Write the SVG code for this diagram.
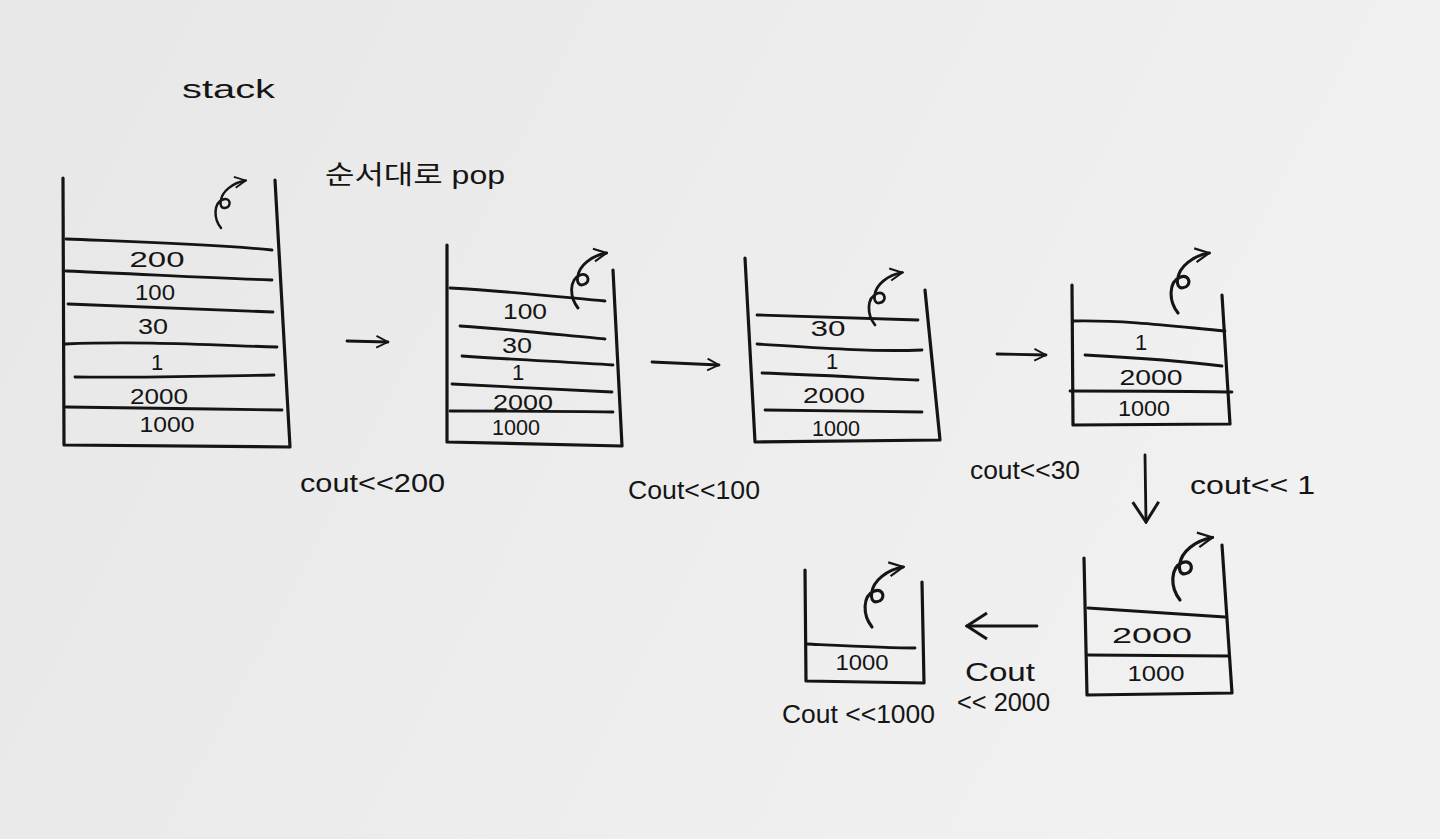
<svg xmlns="http://www.w3.org/2000/svg" width="1440" height="839" viewBox="0 0 1440 839">
<defs>
<linearGradient id="paper" x1="0" y1="0" x2="1" y2="0.3">
<stop offset="0" stop-color="#e7e7e7"/>
<stop offset="0.6" stop-color="#ededed"/>
<stop offset="1" stop-color="#f1f1f1"/>
</linearGradient>
<marker id="ah" viewBox="0 0 12 12" refX="11" refY="6" markerWidth="14" markerHeight="14" markerUnits="userSpaceOnUse" orient="auto">
<path d="M1,1 L11,6 L1,11" fill="none" stroke="#151515" stroke-width="1.6"/>
</marker>
<marker id="big" viewBox="0 0 24 30" refX="22" refY="15" markerWidth="24" markerHeight="30" markerUnits="userSpaceOnUse" orient="auto">
<path d="M2,2 L22,15 L2,28" fill="none" stroke="#151515" stroke-width="3"/>
</marker>
<path id="curl" d="M0,0 C-8,-10 -8,-26 2,-30 C10,-33 12,-22 4,-21 C-3,-20 -2,-34 8,-42 C14,-47 20,-49 26,-50" fill="none" stroke="#151515" stroke-width="2.6" stroke-linecap="round" marker-end="url(#ah)"/>
</defs>
<style>
.w{fill:none;stroke:#141414;stroke-width:3.2;stroke-linecap:round;stroke-linejoin:round}
.d{fill:none;stroke:#141414;stroke-width:2.8;stroke-linecap:round}
.c{fill:none;stroke:#141414;stroke-width:2.8;stroke-linecap:round}
.n{font-family:"Liberation Sans","Noto Sans CJK KR",sans-serif;font-size:22px;fill:#151515;text-anchor:middle}
.t{font-family:"Liberation Sans","Noto Sans CJK KR",sans-serif;font-size:26px;fill:#151515}
</style>
<rect width="1440" height="839" fill="url(#paper)"/>

<g id="title">
<text class="t" x="182" y="98" font-size="34" textLength="93" lengthAdjust="spacingAndGlyphs">stack</text>
<text class="t" x="325" y="184" font-size="30" textLength="180" lengthAdjust="spacingAndGlyphs">순서대로 pop</text>
</g>

<g id="stack1">
<path class="w" d="M63,178 L64,445 L290,447 L275,180"/>
<path class="d" d="M66,239 C140,242 210,244 272,250"/>
<path class="d" d="M66,271 C140,274 210,278 272,280"/>
<path class="d" d="M68,304 C140,307 210,310 273,312"/>
<path class="d" d="M65,344 C140,341 210,345 277,347"/>
<path class="d" d="M75,377 C140,378 210,376 274,375"/>
<path class="d" d="M66,407 C140,408 210,409 282,410"/>
<text class="n" x="157" y="267" textLength="55" lengthAdjust="spacingAndGlyphs">200</text>
<text class="n" x="155" y="300" textLength="40" lengthAdjust="spacingAndGlyphs">100</text>
<text class="n" x="153" y="334" textLength="30" lengthAdjust="spacingAndGlyphs">30</text>
<text class="n" x="157" y="370">1</text>
<text class="n" x="159" y="404" textLength="58" lengthAdjust="spacingAndGlyphs">2000</text>
<text class="n" x="167" y="432" textLength="55" lengthAdjust="spacingAndGlyphs">1000</text>
<use href="#curl" transform="translate(221,228) scale(0.95)"/>
</g>

<g id="stack2">
<path class="w" d="M447,245 L447,442 L622,446 L613,270"/>
<path class="d" d="M450,288 C520,292 570,298 605,301"/>
<path class="d" d="M460,326 C520,330 570,336 605,339"/>
<path class="d" d="M462,356 C520,360 570,362 613,365"/>
<path class="d" d="M452,384 C520,387 570,390 612,392"/>
<path class="d" d="M450,411 C520,411 570,411 613,412"/>
<text class="n" x="525" y="319" textLength="44" lengthAdjust="spacingAndGlyphs">100</text>
<text class="n" x="517" y="353" textLength="30" lengthAdjust="spacingAndGlyphs">30</text>
<text class="n" x="518" y="380">1</text>
<text class="n" x="523" y="410" textLength="60" lengthAdjust="spacingAndGlyphs">2000</text>
<text class="n" x="516" y="435" textLength="48" lengthAdjust="spacingAndGlyphs">1000</text>
<use href="#curl" transform="translate(578,308) scale(1.1)"/>
</g>

<g id="stack3">
<path class="w" d="M745,258 L755,442 L940,440 L925,290"/>
<path class="d" d="M757,315 C820,317 870,318 918,320"/>
<path class="d" d="M757,344 C820,348 870,352 922,350"/>
<path class="d" d="M762,373 C820,375 870,378 918,380"/>
<path class="d" d="M765,410 C820,411 870,411 922,412"/>
<text class="n" x="828" y="336" textLength="35" lengthAdjust="spacingAndGlyphs">30</text>
<text class="n" x="832" y="369">1</text>
<text class="n" x="834" y="403" textLength="62" lengthAdjust="spacingAndGlyphs">2000</text>
<text class="n" x="836" y="436" textLength="48" lengthAdjust="spacingAndGlyphs">1000</text>
<use href="#curl" transform="translate(875,325) scale(1.05)"/>
</g>

<g id="stack4">
<path class="w" d="M1072,285 L1073,425 L1230,424 L1222,295"/>
<path class="d" d="M1073,321 C1130,320 1180,327 1225,331"/>
<path class="d" d="M1085,355 C1140,358 1190,362 1222,366"/>
<path class="d" d="M1070,391 C1140,391 1190,391 1232,392"/>
<text class="n" x="1141" y="350">1</text>
<text class="n" x="1151" y="385" textLength="63" lengthAdjust="spacingAndGlyphs">2000</text>
<text class="n" x="1144" y="416" textLength="52" lengthAdjust="spacingAndGlyphs">1000</text>
<use href="#curl" transform="translate(1178,313) scale(1.2)"/>
</g>

<g id="stack5">
<path class="w" d="M1084,558 L1087,695 L1232,693 L1222,545"/>
<path class="d" d="M1088,608 C1140,611 1190,615 1225,617"/>
<path class="d" d="M1088,655 C1140,655 1190,656 1228,656"/>
<text class="n" x="1152" y="643" textLength="80" lengthAdjust="spacingAndGlyphs">2000</text>
<text class="n" x="1156" y="681" textLength="57" lengthAdjust="spacingAndGlyphs">1000</text>
<use href="#curl" transform="translate(1180,600) scale(1.25)"/>
</g>

<g id="stack6">
<path class="w" d="M805,570 L806,681 L924,683 L922,582"/>
<path class="d" d="M807,644 C850,646 890,648 915,648"/>
<text class="n" x="862" y="670" textLength="53" lengthAdjust="spacingAndGlyphs">1000</text>
<use href="#curl" transform="translate(872,627) scale(1.2)"/>
</g>

<g id="connectors">
<line class="c" x1="347" y1="341" x2="388" y2="342" marker-end="url(#ah)"/>
<line class="c" x1="652" y1="362" x2="719" y2="365" marker-end="url(#ah)"/>
<line class="c" x1="997" y1="354" x2="1046" y2="355" marker-end="url(#ah)"/>
<line class="c" x1="1145" y1="455" x2="1146" y2="522" marker-end="url(#big)"/>
<line class="c" x1="1037" y1="626" x2="967" y2="626" marker-end="url(#big)"/>
</g>

<g id="labels">
<text class="t" x="300" y="492" textLength="145" lengthAdjust="spacingAndGlyphs">cout&lt;&lt;200</text>
<text class="t" x="628" y="499" textLength="132" lengthAdjust="spacingAndGlyphs">Cout&lt;&lt;100</text>
<text class="t" x="970" y="479" textLength="110" lengthAdjust="spacingAndGlyphs">cout&lt;&lt;30</text>
<text class="t" x="1190" y="494" textLength="125" lengthAdjust="spacingAndGlyphs">cout&lt;&lt; 1</text>
<text class="t" x="965" y="681" font-size="28" textLength="70" lengthAdjust="spacingAndGlyphs">Cout</text>
<text class="t" x="957" y="711" textLength="93" lengthAdjust="spacingAndGlyphs">&lt;&lt; 2000</text>
<text class="t" x="782" y="723" textLength="153" lengthAdjust="spacingAndGlyphs">Cout &lt;&lt;1000</text>
</g>
</svg>
